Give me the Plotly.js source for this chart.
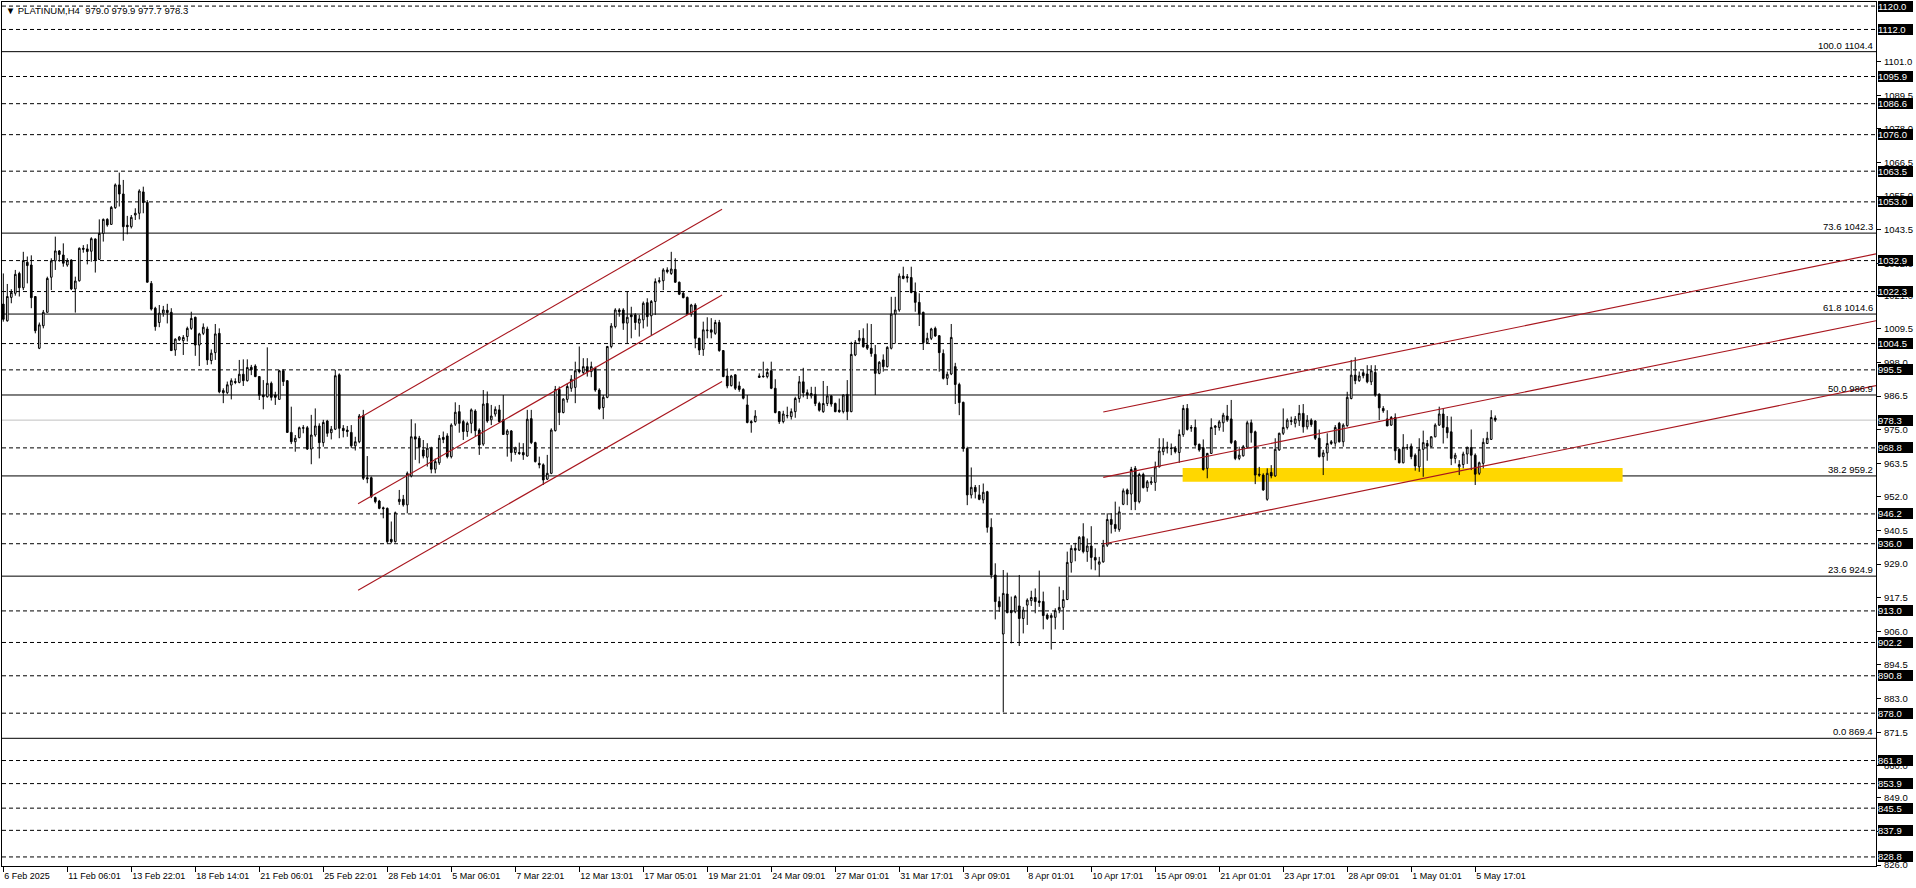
<!DOCTYPE html>
<html>
<head>
<meta charset="utf-8">
<script src="https://cdn.plot.ly/plotly-3.0.1.min.js"></script>
<style>
  html, body { margin: 0; padding: 0; background: #ffffff; }
  #chart { width: 1916px; height: 888px; }
</style>
</head>
<body>
<div id="chart"></div>
<script>
// ---------- DATA ----------
const symbolTitle = '\u25BC PLATINUM,H4\u00a0\u00a0979.0 979.9 977.7 978.3';

const openP = [
1018.0,1012.3,1020.3,1021.7,1028.5,1023.6,1032.3,1031.4,1020.6,1002.9,
1010.6,1015.2,1027.2,1032.8,1036.2,1034.8,1031.4,1033.1,1023.2,1026.0,
1037.1,1036.9,1036.1,1040.3,1033.3,1042.2,1047.0,1045.3,1051.0,1058.8,
1055.7,1045.0,1044.5,1048.5,1049.1,1056.4,1052.8,1025.1,1016.6,1011.7,
1014.9,1015.9,1015.2,1002.3,1005.8,1005.5,1006.9,1009.7,1013.5,1004.0,
1008.0,1009.5,998.7,1001.4,1008.0,988.4,987.7,990.3,991.5,991.2,
994.0,991.8,996.4,996.8,993.2,986.9,986.3,990.9,986.9,985.4,
995.2,991.8,974.1,970.9,972.3,975.5,975.7,968.4,973.2,976.3,
970.6,978.0,974.0,975.2,993.8,975.5,974.9,974.1,969.5,970.9,
979.9,958.6,958.6,951.8,950.6,948.3,948.1,937.5,936.7,950.4,
951.2,949.3,959.2,972.6,972.1,968.1,965.6,968.7,961.5,963.7,
972.4,972.9,965.8,976.9,981.2,977.8,974.4,977.2,981.4,974.9,
970.1,984.0,978.4,980.4,981.8,978.4,973.4,974.6,967.2,967.2,
967.2,966.0,978.8,970.6,963.5,963.0,958.1,960.1,974.7,988.8,
980.9,985.4,989.2,989.5,995.5,994.6,996.6,994.9,996.0,988.6,
982.6,986.1,1003.5,1010.3,1016.0,1016.0,1011.5,1014.3,1014.3,1011.5,
1012.6,1018.5,1014.0,1018.9,1025.7,1026.0,1029.7,1028.5,1029.9,1025.5,
1021.7,1020.3,1014.6,1017.7,1006.3,1002.5,1008.9,1009.2,1008.0,1011.7,
1002.1,993.4,990.1,993.8,990.0,988.8,983.5,977.8,977.8,992.9,
993.4,993.2,995.2,989.2,981.2,977.8,979.9,979.5,981.2,985.7,
991.4,987.7,986.6,987.1,984.0,981.2,984.0,986.6,984.0,981.7,
981.2,987.1,981.2,1000.6,1005.5,1006.3,1004.0,1002.9,1000.8,994.3,
998.9,996.6,1002.9,1014.6,1016.0,1027.6,1027.4,1027.1,1022.2,1018.6,
1015.2,1004.8,1006.3,1009.7,1007.2,1001.1,992.6,994.1,996.6,990.5,
984.4,968.6,952.7,955.3,952.7,951.0,953.8,941.6,925.3,916.2,
905.1,918.8,913.1,912.7,914.7,910.4,915.0,916.5,917.6,916.4,
916.2,911.6,910.7,910.8,913.3,914.2,916.9,929.6,934.4,933.8,
938.4,933.3,935.2,931.3,929.0,929.8,935.5,944.3,942.6,940.9,
949.5,954.4,953.0,961.8,950.4,959.7,955.2,956.8,957.0,962.3,
967.5,968.7,968.8,968.8,967.2,973.4,982.3,975.8,975.8,970.0,
968.9,961.8,966.9,975.8,975.8,977.4,979.7,978.7,971.1,965.2,
966.1,969.0,977.4,974.3,959.8,959.5,951.2,960.4,959.2,968.1,
973.8,975.8,977.8,977.2,978.1,980.6,976.0,978.3,978.0,972.1,
965.8,967.1,970.3,970.4,977.2,970.9,976.4,985.7,993.7,991.8,
994.5,994.1,991.4,994.6,987.2,982.3,978.7,976.6,979.2,968.3,
963.7,968.8,969.4,966.3,962.3,968.3,970.3,969.2,972.6,976.6,
980.4,975.8,974.3,965.2,962.3,963.1,966.7,968.9,966.3,960.1,
963.5,970.3,971.7,979.0];

const highP = [
1028.5,1024.9,1023.1,1029.7,1029.1,1035.9,1034.3,1034.7,1020.6,1011.7,
1016.0,1027.4,1033.7,1041.1,1036.5,1038.8,1033.7,1033.3,1027.4,1037.4,
1038.2,1038.5,1040.9,1040.5,1047.0,1047.3,1047.4,1051.6,1059.3,1063.0,
1060.5,1048.2,1048.5,1050.8,1057.3,1058.2,1053.6,1025.9,1017.1,1017.7,
1017.4,1018.1,1016.6,1006.3,1007.1,1007.4,1010.3,1015.4,1013.7,1008.2,
1011.4,1010.3,1002.5,1011.2,1009.7,989.2,991.5,992.6,992.6,998.9,
999.1,999.1,997.2,997.4,993.4,992.0,1003.2,991.5,988.0,995.5,
995.7,992.0,982.9,973.2,976.1,976.6,976.3,980.1,982.3,977.2,
978.4,978.4,976.3,995.5,994.3,976.6,976.3,976.6,972.6,980.4,
981.8,966.0,959.0,952.1,951.0,948.7,948.4,943.6,947.0,954.4,
952.7,960.7,978.6,977.2,972.9,971.5,970.4,969.2,965.2,973.2,
974.4,973.8,977.2,984.4,983.5,978.4,977.8,982.3,982.0,975.5,
988.6,988.1,983.5,983.0,983.5,986.9,975.2,974.9,969.2,970.6,
970.4,981.8,981.8,970.9,965.8,963.5,966.4,975.5,990.0,989.8,
985.8,990.9,993.7,998.3,1003.5,999.5,999.5,998.3,996.6,989.2,
986.9,1003.7,1011.5,1016.6,1016.6,1016.6,1022.3,1017.1,1014.9,1014.3,
1018.9,1020.0,1019.4,1026.8,1027.2,1030.3,1030.6,1035.9,1033.7,1025.7,
1022.3,1020.6,1018.1,1018.3,1006.5,1012.0,1013.5,1013.2,1012.6,1012.6,
1002.3,996.0,993.8,994.0,991.5,989.2,986.9,978.3,981.7,994.3,
998.3,996.0,998.3,992.3,981.4,981.5,982.9,982.3,986.3,993.4,
996.2,988.8,989.7,989.7,984.6,991.7,990.0,986.8,984.3,985.7,
987.1,992.0,1005.1,1005.7,1009.1,1009.7,1011.4,1011.2,1004.0,998.5,
1000.8,1003.6,1020.5,1020.5,1028.5,1030.8,1028.3,1030.8,1025.4,1021.7,
1015.4,1008.2,1009.9,1010.3,1007.4,1002.5,994.9,1011.2,997.9,991.1,
984.6,969.2,962.1,956.1,956.1,956.6,954.1,944.7,929.3,917.9,
927.0,926.1,917.9,918.4,925.3,914.4,917.3,919.9,920.7,926.8,
919.6,912.2,912.2,913.9,921.3,920.1,933.3,935.5,936.3,938.6,
943.0,937.8,942.0,934.4,931.5,937.3,946.4,946.4,950.4,948.7,
954.9,954.9,962.3,962.6,960.3,960.3,957.8,958.9,964.1,972.1,
972.1,970.9,970.3,969.4,975.1,983.5,983.8,976.6,978.5,970.3,
971.7,967.1,978.9,976.6,978.3,980.8,983.5,985.2,971.5,969.2,
969.8,978.1,978.5,974.7,962.3,960.1,961.8,962.9,972.1,974.0,
982.3,978.9,979.5,979.7,983.5,983.8,980.0,978.9,978.3,975.1,
968.1,973.8,971.5,976.6,977.7,977.2,988.0,998.9,999.8,994.9,
995.4,997.1,997.1,997.1,987.4,983.1,981.7,979.7,980.6,968.6,
973.5,970.1,970.3,966.9,972.1,974.7,971.5,972.8,977.2,982.9,
982.3,979.7,979.5,967.1,964.6,967.5,969.2,975.1,966.9,964.1,
972.1,974.3,981.7,979.9];

const lowP = [
1012.0,1012.0,1018.3,1020.9,1020.6,1022.8,1025.1,1016.6,1008.0,1002.6,
1009.7,1015.1,1022.8,1029.7,1032.5,1030.8,1030.8,1022.8,1015.1,1025.7,
1035.6,1031.6,1032.5,1028.8,1033.1,1039.4,1044.5,1045.1,1050.6,1051.4,
1039.7,1041.9,1043.9,1046.8,1047.0,1049.1,1025.4,1015.8,1008.9,1010.1,
1013.7,1011.4,1002.0,1000.3,1005.4,1000.6,1005.2,1009.2,1000.3,996.8,
1007.4,997.2,997.4,998.9,987.5,984.1,987.2,985.4,990.6,990.9,
990.0,991.5,993.7,993.0,985.2,982.0,986.0,985.0,983.5,985.4,
990.0,974.0,970.1,967.5,972.1,973.8,968.1,963.2,972.6,965.2,
969.2,972.6,971.7,974.9,972.1,972.4,972.6,968.7,967.9,970.4,
957.8,956.7,951.6,949.8,947.8,944.7,936.1,936.1,936.4,949.3,
948.7,946.4,958.7,964.7,963.5,965.2,962.4,960.1,960.1,963.0,
970.4,965.2,965.2,976.3,974.0,971.5,972.6,973.8,972.6,966.4,
969.5,977.4,976.6,979.5,977.4,973.2,965.8,964.1,966.4,966.4,
964.7,965.8,970.1,963.8,961.8,956.1,957.8,959.8,974.4,976.6,
980.6,984.3,988.0,984.1,994.3,993.8,993.2,993.0,988.0,981.8,
978.6,985.8,1002.9,1009.7,1013.7,1009.2,1004.6,1006.3,1009.2,1006.9,
1009.7,1010.3,1007.4,1014.3,1025.1,1022.8,1028.5,1028.0,1025.3,1021.1,
1020.0,1014.3,1013.7,1002.9,1000.6,1000.3,1006.3,1006.3,1007.5,1001.7,
993.0,989.2,989.8,988.6,988.0,985.4,977.2,974.0,977.5,992.8,
992.8,992.6,988.9,980.6,977.0,977.2,978.9,978.5,979.1,984.3,
986.1,985.5,985.7,983.1,981.2,980.8,983.1,982.9,981.0,980.8,
980.6,978.3,981.0,1000.2,1004.8,1003.1,1002.3,1000.0,986.9,994.0,
994.9,996.3,1002.5,1004.5,1015.4,1026.5,1025.4,1021.7,1015.4,1010.5,
1002.3,1004.6,1005.7,1006.8,994.9,992.2,990.3,993.7,983.8,980.0,
967.5,949.2,951.5,951.5,950.9,949.8,939.8,924.1,910.1,912.7,
878.3,912.2,901.9,912.2,901.0,905.3,908.2,914.7,912.2,914.4,
906.7,909.9,899.8,906.7,912.2,906.5,916.7,926.1,930.0,933.5,
932.7,929.8,927.2,926.9,924.7,929.5,934.9,939.5,940.1,940.1,
949.2,949.2,947.5,947.5,949.8,954.9,953.8,956.1,954.1,962.1,
966.3,966.9,966.3,966.9,963.7,972.6,974.7,974.3,969.2,967.5,
961.0,958.4,966.7,973.2,974.7,974.3,977.7,970.1,964.6,964.6,
965.8,968.6,970.6,956.4,958.9,954.1,950.7,958.4,958.9,967.8,
973.2,975.1,976.6,975.8,976.3,974.0,975.1,976.0,971.5,965.5,
959.5,964.4,969.8,969.2,970.6,969.2,976.0,985.4,990.6,991.4,
992.6,990.9,990.3,986.3,978.3,980.8,976.3,976.3,964.6,963.5,
963.5,968.1,964.9,961.0,960.6,958.9,964.4,969.0,972.4,976.3,
970.3,972.1,962.9,963.5,959.5,961.8,963.3,961.2,956.1,959.5,
961.8,970.1,971.5,977.7];

const closeP = [
1012.8,1020.6,1022.0,1028.2,1023.6,1032.9,1031.2,1020.2,1008.9,1010.9,
1015.2,1026.8,1032.8,1036.2,1035.0,1032.0,1032.9,1023.2,1025.9,1037.1,
1036.8,1036.0,1040.4,1033.1,1042.2,1047.0,1045.1,1051.1,1058.8,1055.7,
1044.5,1044.5,1047.7,1049.1,1056.7,1052.8,1025.5,1016.3,1010.3,1014.9,
1016.0,1015.1,1002.1,1006.0,1006.7,1006.6,1009.7,1013.1,1004.0,1007.8,
1010.1,998.9,1001.2,1007.8,988.0,987.7,990.4,991.8,991.2,994.0,
991.8,996.3,995.5,993.2,986.8,986.3,990.9,986.1,986.1,995.2,
991.5,974.1,970.9,972.1,975.7,975.7,968.4,973.2,976.3,970.6,
977.5,973.8,975.2,993.5,975.5,974.7,974.4,969.5,970.9,979.7,
958.4,958.2,952.1,950.4,948.1,948.0,936.7,936.7,946.6,951.2,
949.3,960.1,972.6,971.8,969.0,966.0,968.7,961.5,964.1,972.1,
971.7,965.8,976.6,981.0,977.2,974.4,977.2,981.8,974.7,969.8,
983.8,978.0,979.7,982.0,977.8,973.4,974.6,967.2,968.7,966.9,
966.4,978.6,970.6,964.1,963.0,957.8,960.1,974.9,988.8,980.9,
985.5,989.8,992.3,995.2,994.9,996.6,994.9,996.6,988.6,982.3,
986.1,1003.5,1010.5,1016.0,1015.4,1011.5,1013.5,1013.7,1011.7,1012.9,
1018.3,1013.7,1018.9,1025.7,1026.0,1029.7,1029.1,1030.0,1025.5,1021.4,
1020.2,1014.6,1017.7,1006.3,1002.3,1009.2,1009.1,1008.4,1011.7,1002.1,
993.2,990.0,993.4,989.2,988.8,985.8,977.5,977.4,979.7,993.4,
993.2,994.6,989.2,980.9,977.8,980.4,979.8,981.2,985.7,991.4,
987.7,986.9,987.4,984.0,981.7,984.0,986.6,983.8,981.2,981.2,
986.9,981.2,1000.8,1004.9,1006.3,1003.4,1002.9,1001.1,994.3,998.1,
996.6,1003.2,1014.6,1016.0,1027.6,1026.8,1027.0,1022.0,1018.6,1014.6,
1004.8,1006.3,1009.5,1007.1,1001.4,992.6,994.0,1006.6,990.5,984.3,
968.6,952.7,955.3,953.8,951.2,953.6,941.6,925.3,916.2,914.4,
919.0,912.4,912.4,917.9,910.4,913.3,916.7,917.6,916.2,915.9,
911.4,910.4,911.4,913.1,914.2,916.9,929.6,934.4,933.8,938.2,
933.3,935.2,931.3,930.4,929.8,935.5,944.3,942.6,941.2,946.9,
954.1,953.0,961.4,950.4,959.7,955.2,957.2,957.2,962.3,967.7,
969.0,969.0,968.6,967.5,973.4,982.3,975.1,975.6,969.8,968.1,
961.4,966.9,975.8,976.3,977.7,980.0,978.3,970.6,965.2,966.3,
969.2,977.4,974.0,959.5,959.5,954.4,960.1,959.2,968.3,973.8,
975.8,978.3,978.1,978.7,980.6,976.0,978.3,976.8,972.1,965.8,
967.1,970.3,970.9,975.8,970.9,976.6,986.1,993.7,991.8,993.4,
993.5,991.4,995.2,986.9,982.5,981.5,976.3,979.2,967.8,963.7,
969.0,968.9,965.8,962.6,968.3,970.6,969.4,972.6,976.6,980.4,
975.8,974.0,965.2,966.3,963.1,966.7,969.0,966.3,959.8,963.7,
970.7,972.1,979.2,978.3];

const xTickLabels = ['6 Feb 2025','11 Feb 06:01','13 Feb 22:01','18 Feb 14:01','21 Feb 06:01',
  '25 Feb 22:01','28 Feb 14:01','5 Mar 06:01','7 Mar 22:01','12 Mar 13:01','17 Mar 05:01',
  '19 Mar 21:01','24 Mar 09:01','27 Mar 01:01','31 Mar 17:01','3 Apr 09:01','8 Apr 01:01',
  '10 Apr 17:01','15 Apr 09:01','21 Apr 01:01','23 Apr 17:01','28 Apr 09:01','1 May 01:01',
  '5 May 17:01'];
const barsPerLabel = 16;

const yTickVals = [1101.0,1089.5,1078.0,1066.5,1055.0,1043.5,1032.0,1021.0,1009.5,998.0,
  986.5,975.0,963.5,952.0,940.5,929.0,917.5,906.0,894.5,883.0,871.5,860.0,849.0,837.5,826.0];

const dashedLevels = [1120.0,1112.0,1095.9,1086.6,1076.0,1063.5,1053.0,1032.9,1022.3,1004.5,
  995.5,968.8,946.2,936.0,913.0,902.2,890.8,878.0,861.8,853.9,845.5,837.9,828.8];

const fibRatios = ['100.0','73.6','61.8','50.0','38.2','23.6','0.0'];
const fibLevels = [1104.4,1042.3,1014.6,986.9,959.2,924.9,869.4];

const lastPrice = 978.3;

// trend channels (bar index, price)
const channel1X = [88.7, 179.7];
const channel1Upper = [978.8, 1050.5];
const channel1Middle = [949.7, 1021.1];
const channel1Lower = [920.1, 991.5];
const channel2X = [275.0, 468.2];
const channel2Upper = [981.1, 1035.2];
const channel2Middle = [958.7, 1012.3];
const channel2Lower = [935.9, 990.1];

// support zone
const zoneX = [294.85, 404.85];
const zoneY = [957.2, 961.9];

// ---------- BUILD ----------
const FONT = 'Liberation Sans, Arial, sans-serif';
const xIdx = openP.map((_, i) => i);
const xTickVals = xTickLabels.map((_, i) => i * barsPerLabel);

const candle = {
  type: 'candlestick',
  x: xIdx, open: openP, high: highP, low: lowP, close: closeP,
  increasing: { line: { color: '#000000', width: 1 }, fillcolor: '#ffffff' },
  decreasing: { line: { color: '#000000', width: 1 }, fillcolor: '#000000' },
  whiskerwidth: 0,
  hoverinfo: 'skip',
  showlegend: false
};

const shapes = [];
shapes.push({ type: 'rect', xref: 'x', yref: 'y', x0: zoneX[0], x1: zoneX[1], y0: zoneY[0], y1: zoneY[1],
  fillcolor: '#FFD700', line: { width: 0 }, layer: 'below' });
dashedLevels.forEach(v => shapes.push({ type: 'line', xref: 'paper', yref: 'y', x0: 0, x1: 1, y0: v, y1: v,
  line: { color: '#000000', width: 1, dash: '4px,3px' }, layer: 'below' }));
fibLevels.forEach(v => shapes.push({ type: 'line', xref: 'paper', yref: 'y', x0: 0, x1: 1, y0: v, y1: v,
  line: { color: '#000000', width: 1 }, layer: 'below' }));
shapes.push({ type: 'line', xref: 'paper', yref: 'y', x0: 0, x1: 1, y0: lastPrice, y1: lastPrice,
  line: { color: '#C0C0C0', width: 1 }, layer: 'below' });
const red = '#A8161E';
[[channel1X, channel1Upper], [channel1X, channel1Middle], [channel1X, channel1Lower],
 [channel2X, channel2Upper], [channel2X, channel2Middle], [channel2X, channel2Lower]].forEach(([xs, ys]) => {
  shapes.push({ type: 'line', xref: 'x', yref: 'y', x0: xs[0], x1: xs[1], y0: ys[0], y1: ys[1],
    line: { color: red, width: 1.1 }, layer: 'above' });
});

const annotations = [];
fibLevels.forEach((v, i) => annotations.push({
  xref: 'paper', yref: 'y', x: 1, y: v, xanchor: 'right', yanchor: 'bottom', xshift: -2,
  text: fibRatios[i] + ' ' + v.toFixed(1), showarrow: false,
  font: { family: FONT, size: 9.5, color: '#000000' }, borderpad: 0
}));
dashedLevels.concat([lastPrice]).forEach(v => annotations.push({
  xref: 'paper', yref: 'y', x: 1, y: v, xanchor: 'left', yanchor: 'middle', xshift: 2,
  text: v.toFixed(1), showarrow: false, bgcolor: '#000000', borderwidth: 0, borderpad: 0,
  width: 35, height: 11, align: 'left',
  font: { family: FONT, size: 9.5, color: '#ffffff' }
}));

const layout = {
  width: 1916, height: 888,
  margin: { l: 2, r: 40, t: 2, b: 22, pad: 0 },
  paper_bgcolor: '#ffffff', plot_bgcolor: '#ffffff',
  showlegend: false,
  boxgap: 0.4,
  title: { text: symbolTitle, x: 0.003, xref: 'container', xanchor: 'left', y: 0.988, yref: 'container', yanchor: 'middle',
    font: { family: FONT, size: 9.5, color: '#000000' } },
  xaxis: {
    type: 'linear', range: [-0.325, 468.2], rangeslider: { visible: false },
    showgrid: false, zeroline: false, showline: true, mirror: true, linecolor: '#000000', linewidth: 1,
    tickmode: 'array', tickvals: xTickVals, ticktext: xTickLabels, tickangle: 0,
    ticks: 'outside', ticklen: 5, tickcolor: '#000000', tickwidth: 1,
    ticklabelposition: 'outside right', ticklabelstandoff: 1,
    tickfont: { family: FONT, size: 9, color: '#000000' }, fixedrange: true
  },
  yaxis: {
    side: 'right', range: [825.7, 1121.4],
    showgrid: false, zeroline: false, showline: true, mirror: true, linecolor: '#000000', linewidth: 1,
    tickmode: 'array', tickvals: yTickVals, ticktext: yTickVals.map(v => v.toFixed(1)),
    ticks: 'outside', ticklen: 4, tickcolor: '#000000', tickwidth: 1, ticklabelstandoff: 1,
    tickfont: { family: FONT, size: 9.5, color: '#000000' }, fixedrange: true
  },
  shapes: shapes,
  annotations: annotations
};

Plotly.newPlot('chart', [candle], layout, { staticPlot: true, displayModeBar: false });
</script>
</body>
</html>
